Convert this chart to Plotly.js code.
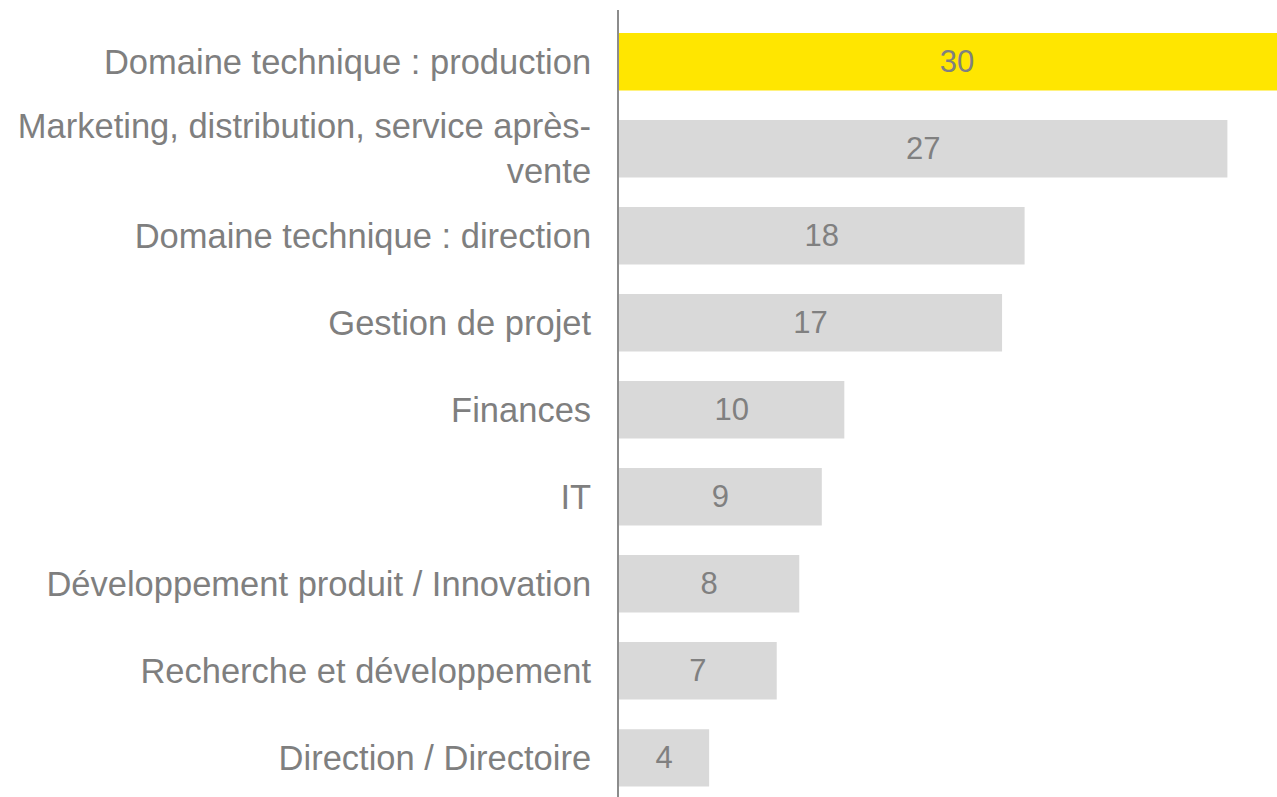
<!DOCTYPE html>
<html>
<head>
<meta charset="utf-8">
<script src="https://cdn.plot.ly/plotly-3.0.1.min.js"></script>
<style>
  html, body { margin: 0; padding: 0; overflow: hidden; background: #fff; }
  #chart { width: 1295px; height: 797px; }
</style>
</head>
<body>
<div id="chart"></div>
<script>
var categories = [
  "Domaine technique : production",
  "Marketing, distribution, service après-<br>vente",
  "Domaine technique : direction",
  "Gestion de projet",
  "Finances",
  "IT",
  "Développement produit / Innovation",
  "Recherche et développement",
  "Direction / Directoire"
];
var values = [30, 27, 18, 17, 10, 9, 8, 7, 4];
var barColors = ["#ffe600", "#d9d9d9", "#d9d9d9", "#d9d9d9", "#d9d9d9", "#d9d9d9", "#d9d9d9", "#d9d9d9", "#d9d9d9"];

var trace = {
  type: "bar",
  orientation: "h",
  x: values,
  y: categories,
  marker: { color: barColors },
  text: values.map(function (v) { return String(v); }),
  textposition: "inside",
  insidetextanchor: "middle",
  textfont: { family: "Liberation Sans, Arial, sans-serif", size: 31, color: "#808080" },
  hoverinfo: "none"
};

var layout = {
  width: 1295,
  height: 797,
  margin: { l: 619, r: 0, t: 10, b: 0, pad: 0 },
  paper_bgcolor: "#ffffff",
  plot_bgcolor: "#ffffff",
  bargap: 0.34,
  showlegend: false,
  font: { family: "Liberation Sans, Arial, sans-serif", color: "#808080" },
  xaxis: {
    range: [0, 30],
    visible: false,
    showgrid: false,
    zeroline: false
  },
  yaxis: {
    type: "category",
    range: [8.45, -0.595],
    showgrid: false,
    zeroline: false,
    showline: true,
    linecolor: "#8c8c8c",
    linewidth: 2,
    ticks: "",
    ticklabelstandoff: 19,
    tickfont: { family: "Liberation Sans, Arial, sans-serif", size: 34.5, color: "#7f7f7f" }
  }
};

Plotly.newPlot("chart", [trace], layout, { staticPlot: true });
</script>
</body>
</html>
